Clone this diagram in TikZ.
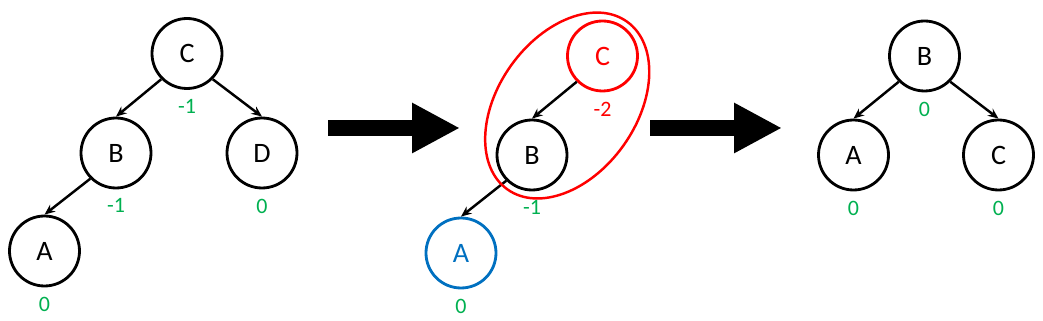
\documentclass[tikz,border=0pt]{standalone}
\usepackage{fontspec}
\setmainfont{Carlito}
\usetikzlibrary{
		arrows.meta,
		calc,
		positioning
	}
\tikzset{
		>={Stealth[length=6pt,width=5pt]},
		treenode/.style={circle, draw, line width=1.6pt, minimum size=1.4cm, inner sep=0pt, font=\fontsize{16}{19}\selectfont},
		bal/.style={inner sep=0pt, text=balgreen, font=\fontsize{12.5}{15}\selectfont},
		edge/.style={->, line width=1.4pt},
		bigarrow/.style={line width=0.32cm, -{Triangle[length=0.96cm,width=0.94cm]}}
	}
\definecolor{balgreen}{RGB}{0,176,80}
\definecolor{rotred}{RGB}{255,0,0}
\definecolor{newblue}{RGB}{0,112,192}

\begin{document}
\begin{tikzpicture}
\useasboundingbox (0,0) rectangle (20.86,-6.42);
\node[treenode] (C1) at (3.74,-1.07) {C};
\node[treenode] (B1) at (2.32,-3.06) {B};
\node[treenode] (D1) at (5.24,-3.06) {D};
\node[treenode] (A1) at (0.89,-5.02) {A};
\node[bal, below=0.18cm of C1] (lC1) {-1};
\node[bal, below=0.18cm of B1] (lB1) {-1};
\node[bal, below=0.18cm of D1] (lD1) {0};
\node[bal, below=0.18cm of A1] (lA1) {0};
\draw[edge] (C1.south west) -- (B1.north);
\draw[edge] (C1.south east) -- (D1.north);
\draw[edge] (B1.south west) -- (A1.north);

\coordinate (s1) at (6.56,-2.56);
\coordinate (e1) at (9.20,-2.56);
\draw[bigarrow] (s1) -- (e1);

\node[treenode, draw=rotred, text=rotred] (C2) at (12.05,-1.12) {C};
\node[treenode] (B2) at (10.64,-3.10) {B};
\node[treenode, draw=newblue, text=newblue] (A2) at (9.22,-5.06) {A};
\node[bal, below=0.18cm of C2, text=rotred] (lC2) {-2};
\node[bal, below=0.18cm of B2] (lB2) {-1};
\node[bal, below=0.18cm of A2] (lA2) {0};
\draw[edge] (C2.south west) -- (B2.north);
\draw[edge] (B2.south west) -- (A2.north);
\coordinate (m2) at ($(C2)!0.5!(B2)$);
\draw[rotred, line width=1.4pt, rotate around={54.5:(m2)}] (m2) ellipse (2.06 and 1.38);

\coordinate (s2) at (13.00,-2.56);
\coordinate (e2) at (15.64,-2.56);
\draw[bigarrow] (s2) -- (e2);

\node[treenode] (B3) at (18.49,-1.12) {B};
\node[treenode] (A3) at (17.07,-3.10) {A};
\node[treenode] (C3) at (19.97,-3.10) {C};
\node[bal, below=0.18cm of B3] (lB3) {0};
\node[bal, below=0.18cm of A3] (lA3) {0};
\node[bal, below=0.18cm of C3] (lC3) {0};
\draw[edge] (B3.south west) -- (A3.north);
\draw[edge] (B3.south east) -- (C3.north);
\end{tikzpicture}
\end{document}
